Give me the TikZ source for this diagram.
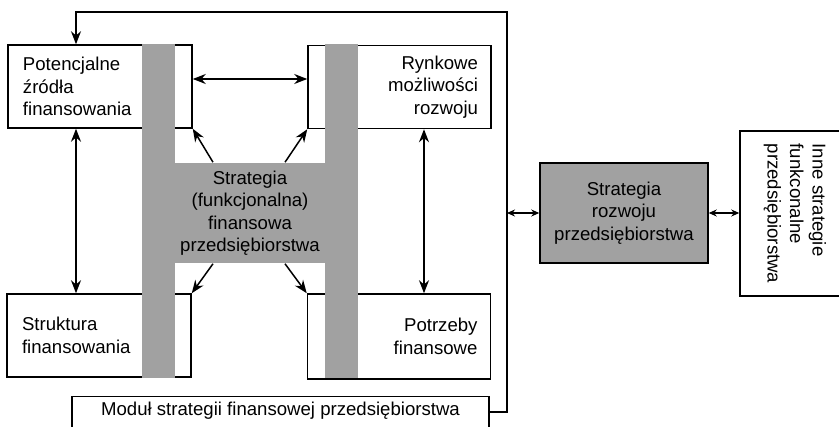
\documentclass[tikz,border=0pt]{standalone}
\usepackage{fontspec}
\setmainfont{Liberation Sans}
\usetikzlibrary{arrows.meta,calc}
\begin{document}
\begin{tikzpicture}[x=1pt,y=-1pt,
  line width=1.5pt,
  every node/.style={font=\fontsize{18.6}{22.5}\selectfont},
  box/.style={draw,rectangle,inner ysep=0pt,minimum height=83pt},
  boxl/.style={box,align=left,text width=154pt,inner xsep=15pt},
  boxr/.style={box,align=right,text width=157pt,inner xsep=13pt},
  dot/.style={fill=black!37},
  tip/.style={-{Stealth[length=13pt,width=10pt]}},
  dtip/.style={{Stealth[length=13pt,width=10pt]}-{Stealth[length=13pt,width=10pt]}},
  stip/.style={{Stealth[length=8pt,width=7pt]}-{Stealth[length=8pt,width=7pt]}}]
\useasboundingbox (0,0) rectangle (839,427);
\clip (0,0) rectangle (839,427);
% boxes
\node[boxl] (pot) at (100,86.5) {Potencjalne\\źródła\\finansowania};
\node[boxr] (ryn) at (399.5,87) {Rynkowe\\możliwości\\rozwoju};
\node[boxl] (str) at (99,335.5) {Struktura\\finansowania};
\node[boxr,minimum height=85pt] (ptr) at (399,336.5) {Potrzeby\\finansowe};
\node[draw,anchor=north,minimum width=417pt,minimum height=44pt,inner sep=0pt,
      text height=15pt,text depth=22pt] (mod) at (280.5,396) {Moduł strategii finansowej przedsiębiorstwa};
% gray H
\fill[dot] (142,44) rectangle (175,378);
\fill[dot] (325,44) rectangle (358,378);
\node[dot,minimum width=216pt,minimum height=100pt,inner sep=0pt,align=center] (fin) at (250,213)
  {Strategia\\(funkcjonalna)\\finansowa\\przedsiębiorstwa};
% right part
\node[draw,dot,minimum width=168pt,minimum height=100pt,inner sep=0pt,align=center] (roz) at (624,213)
  {Strategia\\rozwoju\\przedsiębiorstwa};
\node[draw,rotate=-90,minimum width=165pt,minimum height=110pt,inner sep=0pt,align=left] (inne) at (795,213.5)
  {Inne strategie\\funkconalne\\przedsiębiorstwa};
% coordinates
\coordinate (frTR) at (507,12);
\coordinate (frTL) at (76,12);
\coordinate (rx) at (424,0);
\coordinate (hy) at (0,79);
% connectors
\draw[tip] ($(mod.north east)+(0,16)$) -| (frTR) -- (frTL) -- (frTL |- pot.north);
\draw[dtip] (pot.south -| frTL) -- (str.north -| frTL);
\draw[dtip] (ryn.south -| rx) -- (ptr.north -| rx);
\draw[dtip] (pot.east |- hy) -- (ryn.west |- hy);
\draw[tip] ($(fin.north)+(-37,0)$) -- (pot.south east);
\draw[tip] ($(fin.north)+(35,0)$) -- (ryn.south west);
\draw[tip] ($(fin.south)+(-37,0)$) -- (str.north east);
\draw[tip] ($(fin.south)+(35,0)$) -- (ptr.north west);
\draw[stip] (roz.west -| frTR) -- (roz.west);
\draw[stip] (roz.east) -- (roz.east -| inne.south);
\end{tikzpicture}
\end{document}
